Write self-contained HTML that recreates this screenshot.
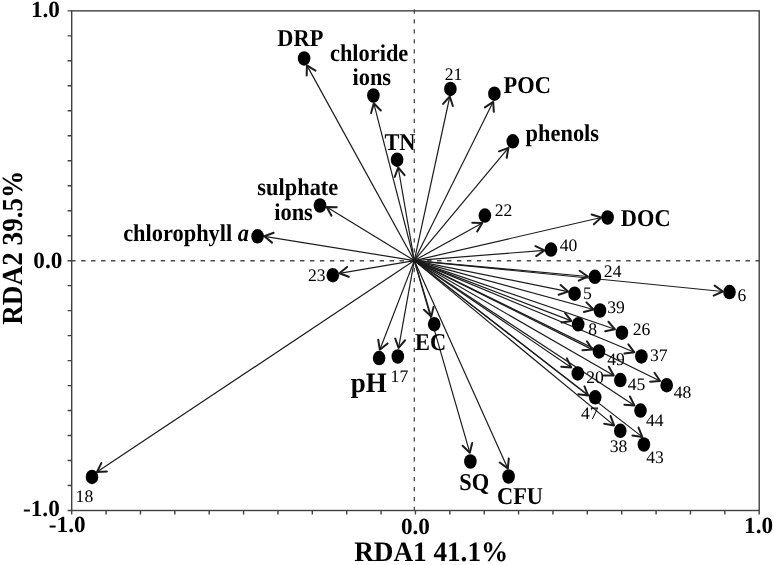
<!DOCTYPE html>
<html><head><meta charset="utf-8"><title>RDA biplot</title>
<style>
html,body{margin:0;padding:0;background:#fff;}
body{width:774px;height:565px;overflow:hidden;font-family:"Liberation Serif",serif;}
svg{display:block;will-change:transform;}
text{text-rendering:geometricPrecision;}
svg .ah{stroke-width:2.0;stroke-linecap:round;stroke-linejoin:round;}
</style></head><body>
<svg width="774" height="565" viewBox="0 0 774 565">
<rect width="774" height="565" fill="#fff"/>
<g stroke="#4a4a4a" stroke-width="1.3" fill="none">
<line x1="71.2" y1="260.75" x2="414.3" y2="260.75" stroke-dasharray="4.4 5.55" stroke-width="1.6"/>
<line x1="417.2" y1="260.75" x2="759.2" y2="260.75" stroke-dasharray="4.4 5.55" stroke-width="1.6"/>
<line x1="414.3" y1="9.35" x2="414.3" y2="510.5" stroke-dasharray="4.3 5.65"/>
</g>
<g stroke="#404040" stroke-width="1.4" fill="none">
<rect x="71.7" y="10.85" width="687.50" height="499.65"/>
<path d="M67.60 10.85H71.7 M71.70 510.5V514.60 M67.60 35.83H71.7 M106.08 510.5V514.60 M67.60 60.81H71.7 M140.45 510.5V514.60 M67.60 85.80H71.7 M174.82 510.5V514.60 M67.60 110.78H71.7 M209.20 510.5V514.60 M67.60 135.76H71.7 M243.57 510.5V514.60 M67.60 160.74H71.7 M277.95 510.5V514.60 M67.60 185.73H71.7 M312.32 510.5V514.60 M67.60 210.71H71.7 M346.70 510.5V514.60 M67.60 235.69H71.7 M381.07 510.5V514.60 M67.60 260.68H71.7 M415.45 510.5V514.60 M67.60 285.66H71.7 M449.82 510.5V514.60 M67.60 310.64H71.7 M484.20 510.5V514.60 M67.60 335.62H71.7 M518.58 510.5V514.60 M67.60 360.61H71.7 M552.95 510.5V514.60 M67.60 385.59H71.7 M587.33 510.5V514.60 M67.60 410.57H71.7 M621.70 510.5V514.60 M67.60 435.55H71.7 M656.08 510.5V514.60 M67.60 460.53H71.7 M690.45 510.5V514.60 M67.60 485.52H71.7 M724.83 510.5V514.60 M67.60 510.50H71.7 M759.20 510.5V514.60"/>
</g>
<g stroke="#1c1c1c" stroke-width="1.2" fill="none" stroke-linecap="butt">
<line x1="414.30" y1="260.60" x2="306.90" y2="65.40"/>
<polyline class="ah" points="306.69,75.40 306.90,65.40 315.46,70.58"/>
<line x1="414.30" y1="260.60" x2="373.80" y2="103.30"/>
<polyline class="ah" points="371.12,112.93 373.80,103.30 380.80,110.44"/>
<line x1="414.30" y1="260.60" x2="449.80" y2="96.50"/>
<polyline class="ah" points="443.08,103.91 449.80,96.50 452.86,106.02"/>
<line x1="414.30" y1="260.60" x2="493.20" y2="101.80"/>
<polyline class="ah" points="484.87,107.33 493.20,101.80 493.82,111.78"/>
<line x1="414.30" y1="260.60" x2="508.40" y2="147.90"/>
<polyline class="ah" points="499.01,151.34 508.40,147.90 506.69,157.75"/>
<line x1="414.30" y1="260.60" x2="398.20" y2="167.50"/>
<polyline class="ah" points="394.75,176.89 398.20,167.50 404.60,175.18"/>
<line x1="414.30" y1="260.60" x2="326.70" y2="206.90"/>
<polyline class="ah" points="331.47,215.69 326.70,206.90 336.70,207.16"/>
<line x1="414.30" y1="260.60" x2="264.30" y2="236.30"/>
<polyline class="ah" points="272.05,242.62 264.30,236.30 273.65,232.75"/>
<line x1="414.30" y1="260.60" x2="482.30" y2="222.90"/>
<polyline class="ah" points="472.30,222.73 482.30,222.90 477.15,231.47"/>
<line x1="414.30" y1="260.60" x2="601.20" y2="217.50"/>
<polyline class="ah" points="591.64,214.57 601.20,217.50 593.88,224.32"/>
<line x1="414.30" y1="260.60" x2="544.50" y2="250.40"/>
<polyline class="ah" points="535.48,246.09 544.50,250.40 536.26,256.06"/>
<line x1="414.30" y1="260.60" x2="339.40" y2="273.30"/>
<polyline class="ah" points="348.77,276.78 339.40,273.30 347.10,266.92"/>
<line x1="414.30" y1="260.60" x2="587.80" y2="276.50"/>
<polyline class="ah" points="579.63,270.73 587.80,276.50 578.72,280.69"/>
<line x1="414.30" y1="260.60" x2="722.80" y2="291.50"/>
<polyline class="ah" points="714.68,285.66 722.80,291.50 713.68,295.61"/>
<line x1="414.30" y1="260.60" x2="568.10" y2="291.60"/>
<polyline class="ah" points="560.60,284.99 568.10,291.60 558.62,294.79"/>
<line x1="414.30" y1="260.60" x2="593.50" y2="309.50"/>
<polyline class="ah" points="586.46,302.40 593.50,309.50 583.83,312.04"/>
<line x1="414.30" y1="260.60" x2="571.40" y2="320.90"/>
<polyline class="ah" points="565.11,313.13 571.40,320.90 561.52,322.46"/>
<line x1="414.30" y1="260.60" x2="615.00" y2="329.30"/>
<polyline class="ah" points="608.43,321.76 615.00,329.30 605.19,331.23"/>
<line x1="414.30" y1="260.60" x2="431.30" y2="316.60"/>
<polyline class="ah" points="433.57,306.86 431.30,316.60 424.00,309.77"/>
<line x1="414.30" y1="260.60" x2="592.40" y2="349.60"/>
<polyline class="ah" points="586.89,341.26 592.40,349.60 582.42,350.20"/>
<line x1="414.30" y1="260.60" x2="634.40" y2="352.30"/>
<polyline class="ah" points="628.33,344.35 634.40,352.30 624.48,353.58"/>
<line x1="414.30" y1="260.60" x2="379.80" y2="349.70"/>
<polyline class="ah" points="387.59,343.43 379.80,349.70 378.26,339.82"/>
<line x1="414.30" y1="260.60" x2="398.60" y2="347.90"/>
<polyline class="ah" points="405.05,340.26 398.60,347.90 395.21,338.49"/>
<line x1="414.30" y1="260.60" x2="571.20" y2="367.40"/>
<polyline class="ah" points="566.85,358.39 571.20,367.40 561.23,366.66"/>
<line x1="414.30" y1="260.60" x2="613.80" y2="375.40"/>
<polyline class="ah" points="608.79,366.75 613.80,375.40 603.80,375.41"/>
<line x1="414.30" y1="260.60" x2="660.10" y2="381.00"/>
<polyline class="ah" points="654.52,372.70 660.10,381.00 650.12,381.68"/>
<line x1="414.30" y1="260.60" x2="588.20" y2="395.60"/>
<polyline class="ah" points="584.43,386.34 588.20,395.60 578.29,394.24"/>
<line x1="414.30" y1="260.60" x2="634.40" y2="405.40"/>
<polyline class="ah" points="629.91,396.46 634.40,405.40 624.42,404.82"/>
<line x1="414.30" y1="260.60" x2="614.10" y2="425.40"/>
<polyline class="ah" points="610.60,416.03 614.10,425.40 604.24,423.75"/>
<line x1="414.30" y1="260.60" x2="642.30" y2="436.90"/>
<polyline class="ah" points="638.51,427.65 642.30,436.90 632.39,435.56"/>
<line x1="414.30" y1="260.60" x2="469.80" y2="452.70"/>
<polyline class="ah" points="472.20,442.99 469.80,452.70 462.59,445.77"/>
<line x1="414.30" y1="260.60" x2="507.80" y2="468.40"/>
<polyline class="ah" points="508.81,458.45 507.80,468.40 499.69,462.55"/>
<line x1="414.30" y1="260.60" x2="96.90" y2="472.10"/>
<polyline class="ah" points="106.88,471.46 96.90,472.10 101.33,463.14"/>
</g>
<g fill="#000">
<ellipse cx="304.1" cy="58.4" rx="6.3" ry="7.25"/>
<ellipse cx="373.4" cy="95.5" rx="6.3" ry="7.25"/>
<ellipse cx="450.4" cy="88.9" rx="6.3" ry="7.25"/>
<ellipse cx="494.4" cy="93.7" rx="6.3" ry="7.25"/>
<ellipse cx="512.8" cy="141.3" rx="6.3" ry="7.25"/>
<ellipse cx="397.1" cy="159.7" rx="6.3" ry="7.25"/>
<ellipse cx="320.0" cy="205.5" rx="6.3" ry="7.25"/>
<ellipse cx="257.6" cy="236.3" rx="6.3" ry="7.25"/>
<ellipse cx="484.9" cy="215.6" rx="6.3" ry="7.25"/>
<ellipse cx="607.6" cy="217.5" rx="6.3" ry="7.25"/>
<ellipse cx="551.0" cy="249.6" rx="6.3" ry="7.25"/>
<ellipse cx="332.8" cy="275.2" rx="6.3" ry="7.25"/>
<ellipse cx="594.9" cy="276.8" rx="6.3" ry="7.25"/>
<ellipse cx="729.5" cy="292.1" rx="6.3" ry="7.25"/>
<ellipse cx="574.6" cy="293.7" rx="6.3" ry="7.25"/>
<ellipse cx="600.0" cy="310.5" rx="6.3" ry="7.25"/>
<ellipse cx="578.2" cy="324.3" rx="6.3" ry="7.25"/>
<ellipse cx="621.9" cy="332.7" rx="6.3" ry="7.25"/>
<ellipse cx="434.2" cy="324.2" rx="6.3" ry="7.25"/>
<ellipse cx="599.0" cy="351.4" rx="6.3" ry="7.25"/>
<ellipse cx="641.4" cy="356.4" rx="6.3" ry="7.25"/>
<ellipse cx="379.1" cy="358.1" rx="6.3" ry="7.25"/>
<ellipse cx="397.8" cy="356.5" rx="6.3" ry="7.25"/>
<ellipse cx="577.8" cy="373.4" rx="6.3" ry="7.25"/>
<ellipse cx="620.3" cy="380.1" rx="6.3" ry="7.25"/>
<ellipse cx="666.7" cy="385.2" rx="6.3" ry="7.25"/>
<ellipse cx="595.2" cy="397.3" rx="6.3" ry="7.25"/>
<ellipse cx="640.5" cy="410.6" rx="6.3" ry="7.25"/>
<ellipse cx="620.3" cy="430.8" rx="6.3" ry="7.25"/>
<ellipse cx="643.9" cy="444.5" rx="6.3" ry="7.25"/>
<ellipse cx="470.4" cy="461.5" rx="6.3" ry="7.25"/>
<ellipse cx="508.6" cy="476.5" rx="6.3" ry="7.25"/>
<ellipse cx="92.0" cy="476.9" rx="6.3" ry="7.25"/>
</g>
<g font-family="Liberation Serif" fill="#000">
<text transform="translate(277.35 45.50) scale(1 1.08)" x="0" y="0" font-size="22.4" font-weight="bold">DRP</text>
<text transform="translate(329.94 61.00) scale(1 1.08)" x="0" y="0" font-size="22.4" font-weight="bold">chloride</text>
<text transform="translate(352.49 85.20) scale(1 1.08)" x="0" y="0" font-size="22.4" font-weight="bold">ions</text>
<text x="444.68" y="79.5" font-size="17.6">21</text>
<text transform="translate(503.59 92.50) scale(1 1.08)" x="0" y="0" font-size="22.4" font-weight="bold">POC</text>
<text transform="translate(525.58 141.30) scale(1 1.08)" x="0" y="0" font-size="22.4" font-weight="bold">phenols</text>
<text transform="translate(384.43 150.30) scale(1 1.08)" x="0" y="0" font-size="22.4" font-weight="bold">TN</text>
<text transform="translate(257.36 194.80) scale(1 1.08)" x="0" y="0" font-size="22.4" font-weight="bold">sulphate</text>
<text transform="translate(274.24 220.20) scale(1 1.08)" x="0" y="0" font-size="22.4" font-weight="bold">ions</text>
<text transform="translate(123.17 240.90) scale(1 1.08)" x="0" y="0" font-size="22.4" font-weight="bold">chlorophyll <tspan font-style="italic">a</tspan></text>
<text x="494.64" y="215.9" font-size="17.6">22</text>
<text transform="translate(620.85 225.60) scale(1 1.08)" x="0" y="0" font-size="22.4" font-weight="bold">DOC</text>
<text x="559.63" y="250.8" font-size="17.6">40</text>
<text x="308.06" y="280.8" font-size="17.6">23</text>
<text x="603.84" y="277.3" font-size="17.6">24</text>
<text x="737.57" y="300.5" font-size="17.6">6</text>
<text x="582.97" y="299.3" font-size="17.6">5</text>
<text x="607.21" y="312.7" font-size="17.6">39</text>
<text x="588.20" y="334.7" font-size="17.6">8</text>
<text x="632.82" y="334.7" font-size="17.6">26</text>
<text transform="translate(414.96 350.20) scale(1 1.08)" x="0" y="0" font-size="22.4" font-weight="bold">EC</text>
<text x="607.18" y="364.8" font-size="17.6">49</text>
<text x="650.02" y="361.2" font-size="17.6">37</text>
<text transform="translate(350.65 391.55) scale(1 1.045)" x="0" y="0" font-size="27" font-weight="bold">pH</text>
<text x="390.62" y="381.7" font-size="17.6">17</text>
<text x="586.26" y="382.9" font-size="17.6">20</text>
<text x="627.78" y="390.2" font-size="17.6">45</text>
<text x="673.68" y="398.3" font-size="17.6">48</text>
<text x="581.04" y="418.6" font-size="17.6">47</text>
<text x="645.96" y="425.6" font-size="17.6">44</text>
<text x="609.81" y="451.8" font-size="17.6">38</text>
<text x="646.18" y="463.1" font-size="17.6">43</text>
<text transform="translate(459.24 490.10) scale(1 1.08)" x="0" y="0" font-size="22.4" font-weight="bold">SQ</text>
<text transform="translate(497.00 504.10) scale(1 1.08)" x="0" y="0" font-size="22.4" font-weight="bold">CFU</text>
<text x="75.61" y="502.4" font-size="17.6">18</text>
<text x="30.89" y="17.4" font-size="23.2" font-weight="bold">1.0</text>
<text x="33.35" y="268.1" font-size="23.2" font-weight="bold">0.0</text>
<text x="23.02" y="515.7" font-size="23.2" font-weight="bold">-1.0</text>
<text x="48.87" y="532.4" font-size="23.2" font-weight="bold">-1.0</text>
<text x="400.90" y="534.4" font-size="23.2" font-weight="bold">0.0</text>
<text x="744.04" y="533.1" font-size="23.2" font-weight="bold">1.0</text>
<text transform="translate(354.14 561.4) scale(1 1.035)" x="0" y="0" font-size="27.2" font-weight="bold">RDA1 41.1%</text>
<text transform="translate(21.6 324.76) rotate(-90) scale(1 1.07)" x="0" y="0" font-size="27.2" font-weight="bold">RDA2 39.5%</text>
</g>
</svg>
</body></html>
